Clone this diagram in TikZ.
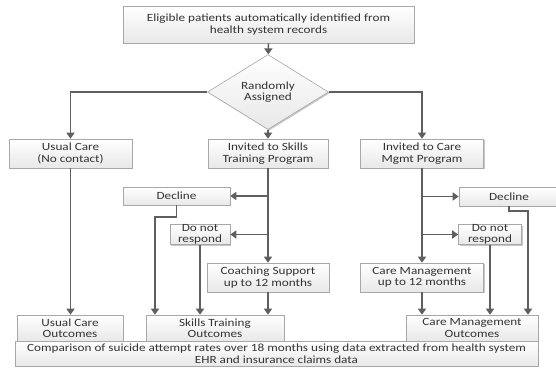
\documentclass[tikz,border=0pt]{standalone}
\usepackage{fontspec}
\setmainfont[FakeStretch=1.2]{Carlito}
\usetikzlibrary{shapes.geometric,arrows.meta,shadows}
\definecolor{linec}{HTML}{5F5F5F}
\definecolor{boxb}{HTML}{A8A8A8}
\definecolor{txt}{HTML}{333333}
\tikzset{
  box/.style={draw=boxb, line width=0.6pt, top color=white, bottom color=black!9,
    text=txt, align=center, inner sep=0pt,
    font=\fontsize{11}{11.5}\selectfont,
    drop shadow={shadow xshift=1.2pt, shadow yshift=-1.2pt, opacity=0.22, fill=black}},
  conn/.style={draw=linec, line width=1.5pt},
  arr/.style={conn, -{Triangle[length=6pt,width=8pt]}},
}
\begin{document}
\begin{tikzpicture}[x=1pt,y=-1pt]
\useasboundingbox[fill=white] (0,0) rectangle (556,367);
% nodes
\node[box, minimum width=291pt, minimum height=37pt] (top) at (268.5,24.5)
  {Eligible patients automatically identified from\\health system records};
\node[box, shape=diamond, minimum width=121pt, minimum height=54pt] (dia) at (268,92)
  {Randomly\\Assigned};
\node[box, minimum width=123pt, minimum height=29pt] (usual) at (70.5,153.5)
  {Usual Care\\(No contact)};
\node[box, minimum width=120pt, minimum height=29pt] (skills) at (268,153.5)
  {Invited to Skills\\Training Program};
\node[box, minimum width=123pt, minimum height=29pt] (cm) at (422,153.5)
  {Invited to Care\\Mgmt Program};
\node[box, minimum width=107pt, minimum height=18pt] (declL) at (176.5,196)
  {Decline};
\node[box, minimum width=60pt, minimum height=19pt] (dnrL) at (200,234.5)
  {Do not\\respond};
\node[box, minimum width=122pt, minimum height=29pt] (coach) at (268,277.5)
  {Coaching Support\\up to 12 months};
\node[box, minimum width=100pt, minimum height=19pt] (declR) at (509,196.5)
  {Decline};
\node[box, minimum width=63pt, minimum height=19pt] (dnrR) at (490,234.5)
  {Do not\\respond};
\node[box, minimum width=123pt, minimum height=29pt] (cmp) at (422,277.5)
  {Care Management\\up to 12 months};
\node[box, minimum width=106pt, minimum height=26pt] (usualOut) at (70,328)
  {Usual Care\\Outcomes};
\node[box, minimum width=138pt, minimum height=26pt] (skillsOut) at (215,328)
  {Skills Training\\Outcomes};
\node[box, minimum width=132pt, minimum height=26pt] (careOut) at (472,328)
  {Care Management\\Outcomes};
\node[box, minimum width=523pt, minimum height=25pt] (comp) at (276.5,353.5)
  {Comparison of suicide attempt rates over 18 months using data extracted from health system\\EHR and insurance claims data};
% connectors
\coordinate (jl) at (155,217);
\coordinate (jr) at (528,211);
\draw[arr] (top) -- (dia);
\draw[arr] (dia.west) -| (usual.north);
\draw[arr] (dia) -- (skills);
\draw[arr] (dia.east) -| (cm.north);
\draw[arr] (usual.south) -- (usual.south |- usualOut.north);
\draw[arr] (skills) -- (coach);
\draw[arr] (skills.south |- declL.east) -- (declL.east);
\draw[arr] (skills.south |- dnrL.east) -- (dnrL.east);
\draw[arr] (declL.south) |- (jl) -- (jl |- skillsOut.north);
\draw[arr] (dnrL.south) -- (dnrL.south |- skillsOut.north);
\draw[arr] (coach.south) -- (coach.south |- skillsOut.north);
\draw[arr] (cm) -- (cmp);
\draw[arr] (cm.south |- declR.west) -- (declR.west);
\draw[arr] (cm.south |- dnrR.west) -- (dnrR.west);
\draw[arr] (declR.south) |- (jr) -- (jr |- careOut.north);
\draw[arr] (dnrR.south) -- (dnrR.south |- careOut.north);
\draw[arr] (cmp.south) -- (cmp.south |- careOut.north);
\end{tikzpicture}
\end{document}
